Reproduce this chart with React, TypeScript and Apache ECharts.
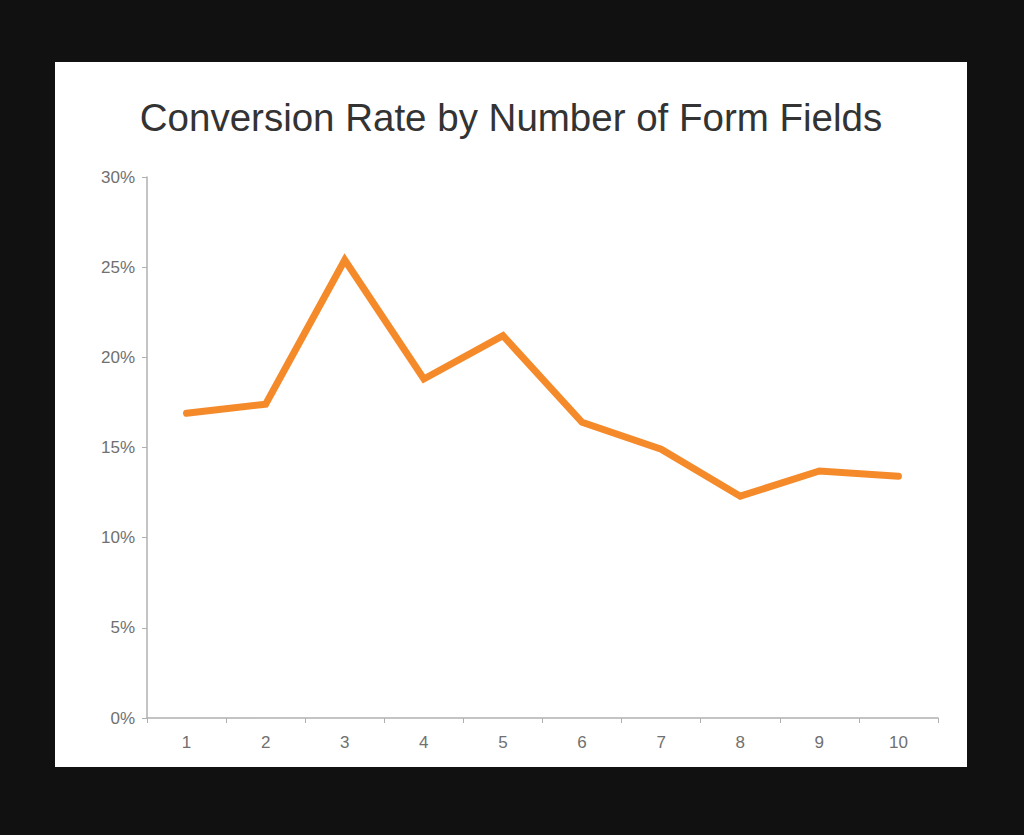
import React, { useEffect, useRef } from "react";
import * as echarts from "echarts";

const categories = ["1", "2", "3", "4", "5", "6", "7", "8", "9", "10"];
const conversionRate = [16.9, 17.4, 25.4, 18.8, 21.2, 16.4, 14.9, 12.3, 13.7, 13.4];
const titleText = "Conversion Rate by Number of Form Fields";

export default function App() {
  const ref = useRef<HTMLDivElement>(null);
  useEffect(() => {
    if (!ref.current) return;
    const chart = echarts.init(ref.current, null, { renderer: "svg" });
    chart.setOption({
      animation: false,
      backgroundColor: "#ffffff",
      title: {
        text: titleText,
        left: "center",
        top: 31,
        textStyle: {
          fontFamily: "Liberation Sans, Arial, sans-serif",
          fontSize: 38.5,
          fontWeight: "normal",
          color: "#333333",
        },
      },
      grid: { left: 92, right: 29, top: 115, bottom: 49 },
      xAxis: {
        type: "category",
        data: categories,
        boundaryGap: true,
        axisLine: { lineStyle: { color: "#b0b0b0", width: 1.5 } },
        axisTick: { show: true, length: 5, lineStyle: { color: "#b0b0b0" } },
        axisLabel: {
          color: "#707070",
          fontSize: 17,
          margin: 16,
          fontFamily: "Liberation Sans, Arial, sans-serif",
        },
      },
      yAxis: {
        type: "value",
        min: 0,
        max: 30,
        interval: 5,
        splitLine: { show: false },
        axisLine: { show: true, lineStyle: { color: "#b0b0b0", width: 1.5 } },
        axisTick: { show: true, length: 5, lineStyle: { color: "#b0b0b0" } },
        axisLabel: {
          formatter: "{value}%",
          color: "#707070",
          fontSize: 17,
          margin: 12,
          fontFamily: "Liberation Sans, Arial, sans-serif",
        },
      },
      series: [
        {
          type: "line",
          data: conversionRate,
          showSymbol: false,
          symbol: "none",
          lineStyle: { color: "#f58a2b", width: 7, cap: "round", join: "miter" },
          itemStyle: { color: "#f58a2b" },
        },
      ],
    });
    return () => chart.dispose();
  }, []);

  return (
    <div
      style={{
        position: "fixed",
        left: 0,
        top: 0,
        width: 1024,
        height: 835,
        background: "#111111",
      }}
    >
      <div
        ref={ref}
        style={{ position: "absolute", left: 55, top: 62, width: 912, height: 705 }}
      />
    </div>
  );
}
